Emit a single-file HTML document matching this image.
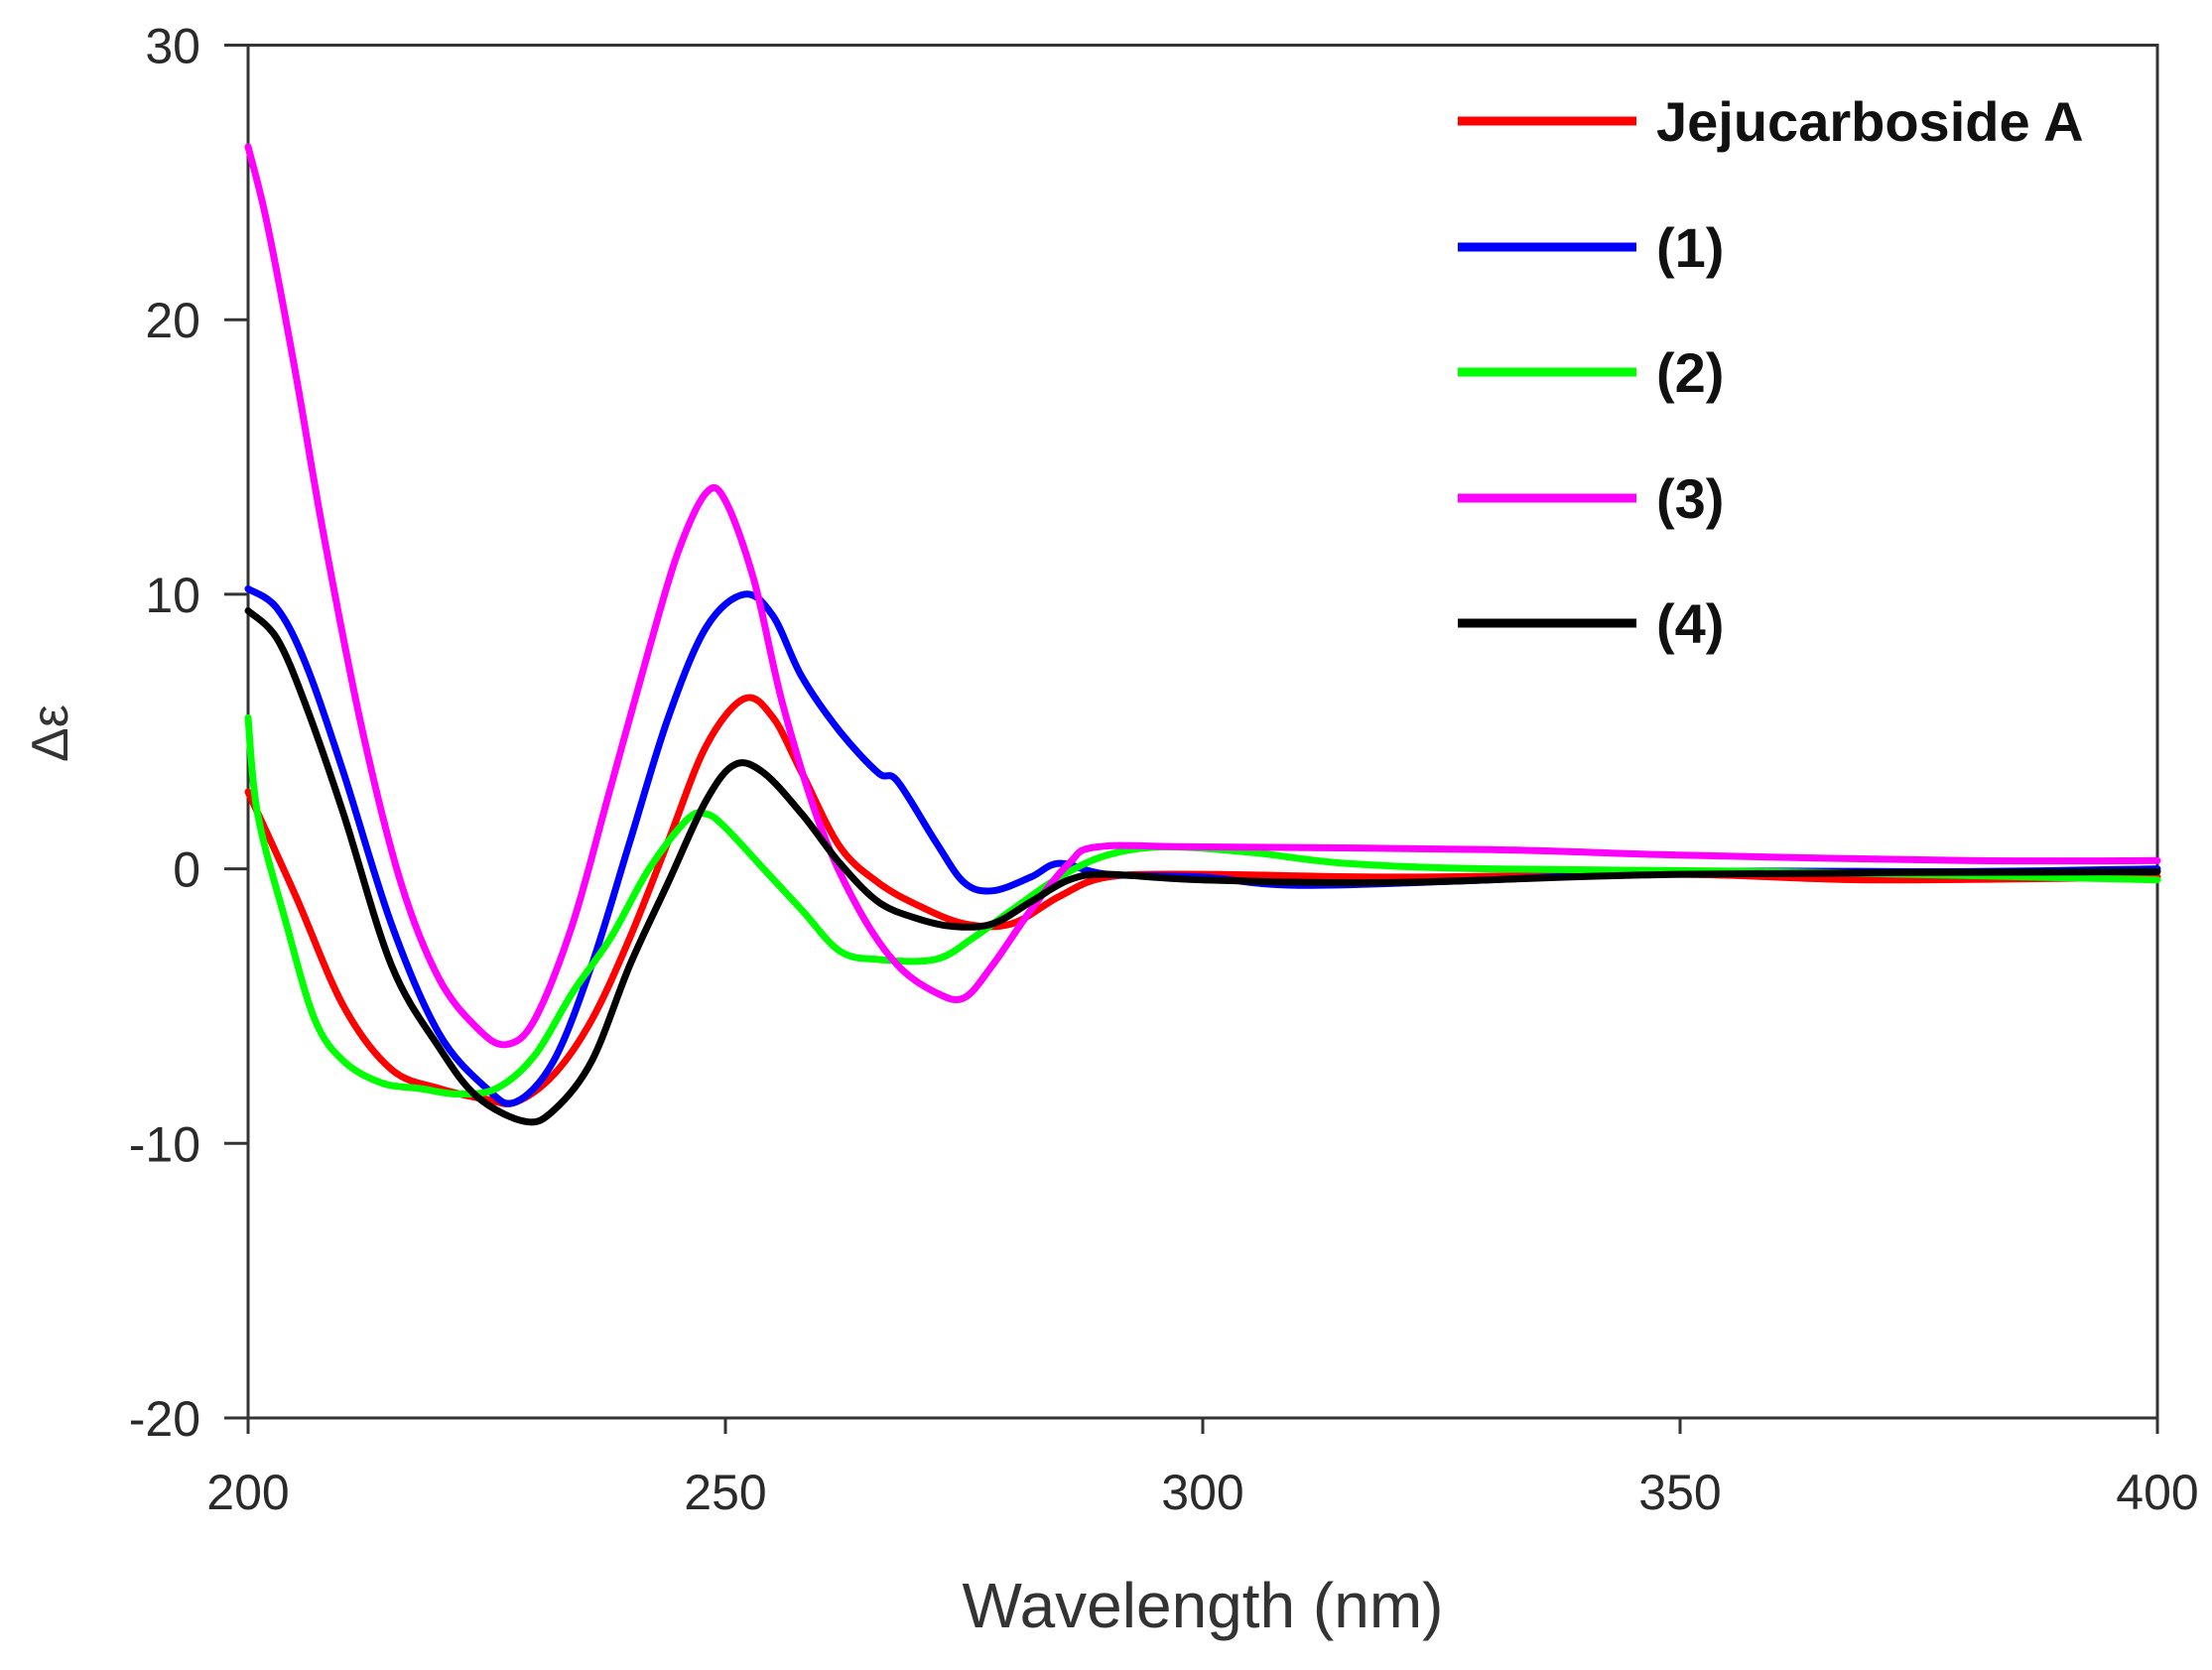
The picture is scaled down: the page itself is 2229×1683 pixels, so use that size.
<!DOCTYPE html>
<html><head><meta charset="utf-8"><style>
html,body{margin:0;padding:0;background:#fff}
svg text{font-family:"Liberation Sans",sans-serif}
</style></head><body>
<svg id="chart" width="2229" height="1678" xmlns="http://www.w3.org/2000/svg">
<rect x="0" y="0" width="2229" height="1678" fill="#fff"/>
<g id="plot"></g>
</svg>
<script>
const xTicks=[200,250,300,350,400];
const yTicks=[-20,-10,0,10,20,30];
const seriesNames=["Jejucarboside A","(1)","(2)","(3)","(4)"];
const seriesColors=["#ff0000","#0000ff","#00ff00","#ff00ff","#000000"];
const redX=[200,205,210,215,220,225,228,232,236,240,244,248,252,255,258,262,266,270,275,280,285,290,300,320,350,370,400];
const redY=[2.8,-1,-5,-7.3,-8,-8.4,-8.5,-7.5,-5.5,-2.5,1,4.5,6.2,5.5,3.5,0.8,-0.5,-1.3,-2,-2,-1,-0.3,-0.2,-0.3,-0.2,-0.4,-0.3];
const blueX=[200,203,206,210,215,220,225,228,232,236,240,244,248,252,255,258,262,266,268,272,275,278,282,285,290,300,310,330,350,380,400];
const blueY=[10.2,9.5,7.5,3.5,-2,-6,-8,-8.5,-7,-3.5,1,5.5,8.8,10,9.2,7,5,3.5,3.2,1,-0.5,-0.8,-0.3,0.2,-0.2,-0.3,-0.6,-0.4,-0.1,-0.1,0];
const greenX=[200,201,204,207,210,214,218,222,226,230,234,238,242,246,248,250,254,258,262,266,272,276,280,285,290,296,305,315,330,360,400];
const greenY=[5.5,2,-2,-5.5,-7,-7.8,-8,-8.2,-8,-6.8,-4.5,-2.5,0,1.8,2,1.5,0,-1.5,-3,-3.3,-3.3,-2.5,-1.5,-0.3,0.5,0.8,0.6,0.2,0,-0.1,-0.4];
const magX=[200,202,205,208,212,216,220,224,227,230,234,238,242,245,248,250,253,256,260,264,268,272,275,278,282,286,289,300,330,350,380,400];
const magY=[26.3,23.5,18,12,5,-0.5,-4,-5.8,-6.4,-5.5,-2,3,8,11.5,13.7,13.4,10.5,6,1.5,-1.5,-3.5,-4.5,-4.7,-3.5,-1.5,0.2,0.8,0.8,0.7,0.5,0.3,0.3];
const blackX=[200,203,206,210,215,220,224,229,232,236,240,244,248,251,254,258,262,266,270,274,278,282,286,290,300,320,350,400];
const blackY=[9.4,8.4,6,2,-3.5,-6.5,-8.3,-9.2,-8.8,-7,-3.5,-0.5,2.5,3.8,3.5,2,0.2,-1.2,-1.8,-2.1,-2,-1.2,-0.4,-0.2,-0.4,-0.5,-0.2,-0.1];
const allX=[redX,blueX,greenX,magX,blackX];
const allY=[redY,blueY,greenY,magY,blackY];

const L=250,R=2174,T=45.5,B=1429;
const xs=v=>L+(v-200)/200*(R-L);
const ys=v=>B-(v+20)/50*(B-T);
const NS="http://www.w3.org/2000/svg";
const g=document.getElementById('plot');
function mk(t,a){const e=document.createElementNS(NS,t);for(const k in a)e.setAttribute(k,a[k]);g.appendChild(e);return e;}

const frame=mk('rect',{x:L,y:T,width:R-L,height:B-T,fill:'none',stroke:'#333',"stroke-width":3});



yTicks.forEach(v=>{
 const t=mk('line',{x1:L-24,x2:L,y1:ys(v),y2:ys(v),stroke:'#333',"stroke-width":3});
 
 
 const l=mk('text',{x:L-48,y:ys(v)+18,"text-anchor":"end","font-size":50,fill:"#2a2a2a"});
 l.textContent=v;
 
 
});
xTicks.forEach(v=>{
 const t=mk('line',{x1:xs(v),x2:xs(v),y1:B,y2:B+16,stroke:'#333',"stroke-width":3});
 
 
 const l=mk('text',{x:xs(v),y:B+92,"text-anchor":"middle","font-size":50,fill:"#2a2a2a"});
 l.textContent=v;
 
 
});
const xt=mk('text',{x:1212,y:1640,"text-anchor":"middle","font-size":64,fill:"#333"});
xt.textContent='Wavelength (nm)';


const yt=mk('text',{x:0,y:0,"text-anchor":"middle","font-size":52,fill:"#333",transform:"translate(68,739) rotate(-90)"});
yt.textContent='Δε';



function smooth(P){
 let d='M'+P[0][0].toFixed(1)+','+P[0][1].toFixed(1);
 for(let i=0;i<P.length-1;i++){
  const p0=P[Math.max(0,i-1)],p1=P[i],p2=P[i+1],p3=P[Math.min(P.length-1,i+2)];
  const c1=[p1[0]+(p2[0]-p0[0])/6,p1[1]+(p2[1]-p0[1])/6];
  const c2=[p2[0]-(p3[0]-p1[0])/6,p2[1]-(p3[1]-p1[1])/6];
  d+=' C'+c1[0].toFixed(1)+','+c1[1].toFixed(1)+' '+c2[0].toFixed(1)+','+c2[1].toFixed(1)+' '+p2[0].toFixed(1)+','+p2[1].toFixed(1);
 }
 return d;
}
allX.forEach((xa,i)=>{
 const P=xa.map((x,j)=>[xs(x),ys(allY[i][j])]);
 const p=mk('path',{d:smooth(P),fill:'none',stroke:seriesColors[i],"stroke-width":7,"stroke-linejoin":"round","stroke-linecap":"round"});
 
 
});

const rowsY=[122,249,375,502,628];
seriesNames.forEach((n,i)=>{
 const ln=mk('line',{x1:1469,x2:1649,y1:rowsY[i],y2:rowsY[i],stroke:seriesColors[i],"stroke-width":9});
 
 
 const tx=mk('text',{x:1669,y:rowsY[i]+20,"font-size":56,"font-weight":"bold",fill:"#111"});
 tx.textContent=n;
 
 
});
</script>
</body></html>
